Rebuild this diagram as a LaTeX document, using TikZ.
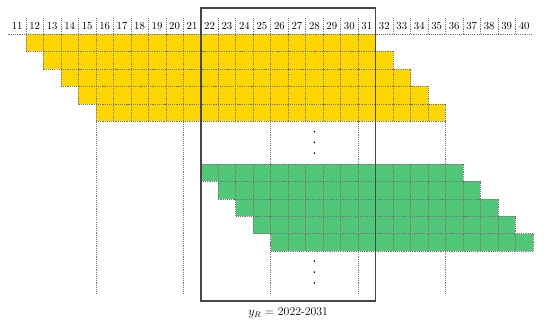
\documentclass[tikz,border=0pt]{standalone}
\definecolor{cellyellow}{RGB}{255,214,0}
\definecolor{cellgreen}{RGB}{80,200,120}
\definecolor{cellline}{RGB}{120,120,120}
\definecolor{framegray}{RGB}{70,70,70}
\begin{document}
\begin{tikzpicture}[x=0.6cm, y=0.6cm,
  cellgrid/.style={draw=cellline, line width=0.6pt, dash pattern=on 1.126pt off 1pt},
  yearframe/.style={draw=framegray, line width=1.6pt}]
  \useasboundingbox (-0.486,1.945) rectangle (30.98,-16.65);
  % header
  \foreach \k in {11,...,40}
    \node[font=\fontsize{10.5}{12}\selectfont, inner sep=1pt] (y\k) at (\k-10.5,0.46) {\k};
  \foreach \x in {1,...,29}
    \draw[cellgrid] (\x,0) -- (\x,0.97);
  \draw[cellgrid] (0,0) -- (30,0);
  % guides below the yellow block
  \foreach \x in {5,10,...,25}
    \draw[cellgrid] (\x,-5) -- (\x,-14.87);
  % yellow block
  \foreach \r in {1,...,5}
    \fill[cellyellow] (\r,1-\r) rectangle (\r+20,-\r);
  \foreach \r in {1,...,5}
    \draw[cellgrid, step=1] (\r,1-\r) grid (\r+20,-\r);
  % green block
  \begin{scope}[shift={(0,-7.43)}]
    \foreach \r in {1,...,5}
      \fill[cellgreen] (\r+10,1-\r) rectangle (\r+25,-\r);
    \foreach \r in {1,...,5}
      \draw[cellgrid, step=1] (\r+10,1-\r) grid (\r+25,-\r);
  \end{scope}
  % dots
  \foreach \y in {-5.59,-6.2,-6.81,-12.99,-13.62,-14.24}
    \fill (17.5,\y) circle (0.05);
  % window
  \draw[yearframe] (11,1.47) rectangle (21,-15.27);
  \node[font=\fontsize{11.5}{13}\selectfont] (yrange) at (16,-15.95) {$y_R$ = 2022-2031};
\end{tikzpicture}
\end{document}
